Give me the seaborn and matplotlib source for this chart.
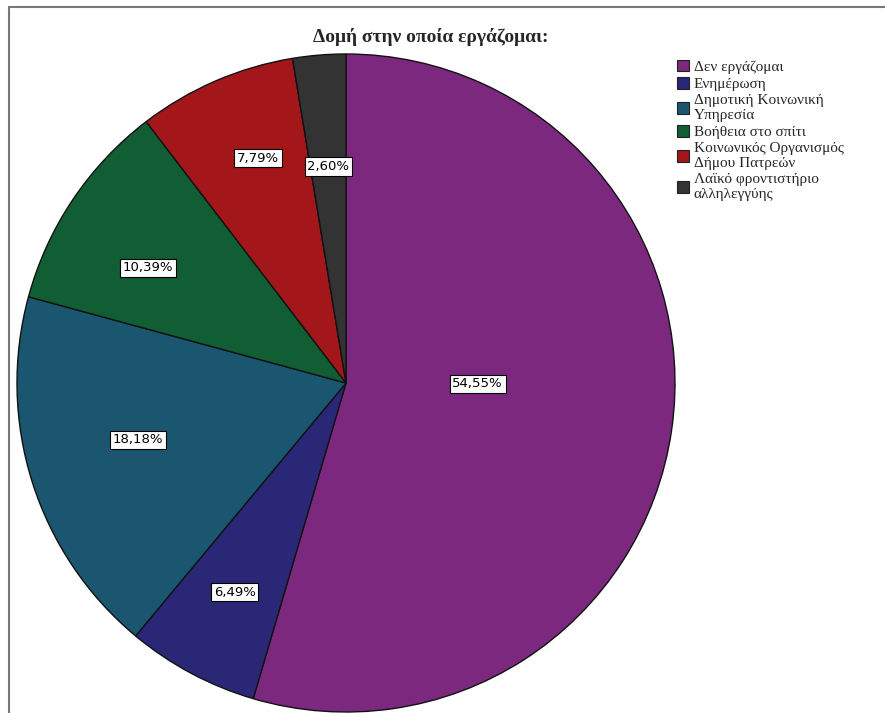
import matplotlib
matplotlib.use("Agg")
import matplotlib.pyplot as plt
import seaborn as sns
import numpy as np
from matplotlib.lines import Line2D

categories = ["Δεν εργάζομαι", "Ενημέρωση", "Δημοτική Κοινωνική\nΥπηρεσία",
              "Βοήθεια στο σπίτι", "Κοινωνικός Οργανισμός\nΔήμου Πατρεών",
              "Λαϊκό φροντιστήριο\nαλληλεγγύης"]
percentages = [54.55, 6.49, 18.18, 10.39, 7.79, 2.60]
colors = ["#7c287e", "#2a2876", "#1a5670", "#115d34", "#a3161a", "#333333"]
label_radius = [0.40, 0.72, 0.656, 0.696, 0.734, 0.66]
label_frac = [0.46, 0.50, 0.534, 0.40, 0.571, 0.50]

sns.set_theme(style="white")
plt.rcParams['font.family'] = ['Liberation Serif', 'DejaVu Serif']

fig = plt.figure(figsize=(8.85, 7.13), dpi=100)
W, H = 885, 713
cx, cy, R = 346, 383, 329
ax = fig.add_axes([(cx - R) / W, (H - cy - R) / H, 2 * R / W, 2 * R / H])

wedges, _ = ax.pie(percentages, colors=colors, startangle=90, counterclock=False,
                   radius=1.0, wedgeprops=dict(edgecolor="#111111", linewidth=1.0))
ax.set_xlim(-1, 1)
ax.set_ylim(-1, 1)
ax.set_aspect("equal")
ax.axis("off")

for w, p, r, f in zip(wedges, percentages, label_radius, label_frac):
    # wedges run clockwise: theta2 is the start edge, theta1 the end edge
    ang = np.deg2rad(w.theta2 - f * (w.theta2 - w.theta1))
    ax.text(r * np.cos(ang), r * np.sin(ang), f"{p:.2f}%".replace(".", ","),
            ha="center", va="center", fontsize=9.5, color="black",
            family=["DejaVu Sans"],
            bbox=dict(boxstyle="square,pad=0.2", facecolor="white",
                      edgecolor="black", linewidth=0.8))

fig.text(313 / W, 1 - 37 / H, "Δομή στην οποία εργάζομαι:", ha="left", va="center",
         fontsize=14, fontweight="bold")

leg = fig.legend(wedges, categories, loc="upper left",
                 bbox_to_anchor=(666 / W, 1 - 49 / H), frameon=False,
                 fontsize=11, handlelength=0.8, handleheight=0.8,
                 handletextpad=0.3, labelspacing=0.2, borderpad=0.2)
for h in leg.legend_handles:
    h.set_edgecolor("#222222")
    h.set_linewidth(0.8)

# frame lines (left and top) as in the reference screenshot
fig.add_artist(Line2D([8.5 / W, 8.5 / W], [0, 1 - 7 / H], color="#777777", linewidth=1.5))
fig.add_artist(Line2D([8.5 / W, 1], [1 - 7 / H, 1 - 7 / H], color="#777777", linewidth=1.5))

fig.savefig("out.png", dpi=100, facecolor="white")
